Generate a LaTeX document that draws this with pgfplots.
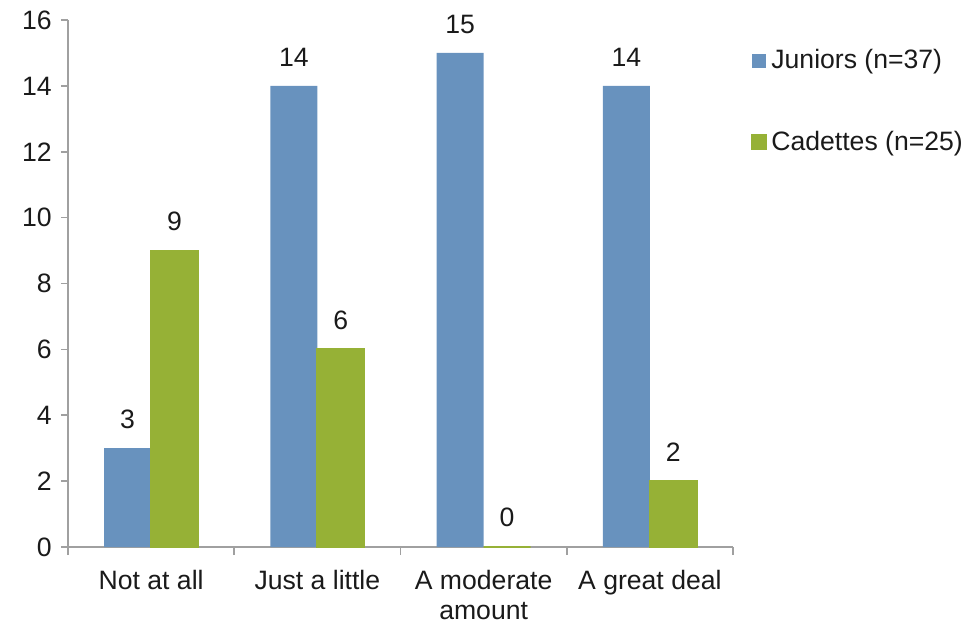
\documentclass[border=0pt]{standalone}
\usepackage{pgfplots}
\pgfplotsset{compat=1.18}
\usepackage{fontspec}
\setmainfont{Liberation Sans}
\definecolor{junblue}{RGB}{104,146,190}
\definecolor{cadgreen}{RGB}{150,177,54}
\definecolor{axgray}{RGB}{160,160,160}
\definecolor{txt}{RGB}{26,26,26}
\begin{document}
\begin{tikzpicture}
\fontsize{13.3}{15}\selectfont
\begin{axis}[
  name=ax,
  scale only axis,
  width=332.5pt, height=263.5pt,
  ybar=0pt, bar width=23.5pt,
  xmin=-0.5, xmax=3.5,
  ymin=0, ymax=16,
  ytick={0,2,...,16},
  xtick={0,1,2,3},
  xticklabels={Not at all, Just a little, {A moderate\\amount}, A great deal},
  minor xtick={-0.5,0.5,1.5,2.5,3.5},
  major x tick style={draw=none},
  minor tick length=4pt,
  major tick length=3.5pt,
  tick align=outside,
  tick style={axgray, line width=0.8pt},
  axis x line*=bottom, axis y line*=left,
  axis line style={axgray, line width=0.8pt, -},
  /pgf/number format/assume math mode=true,
  ticklabel style={font=\fontsize{13.3}{15}\selectfont, text=txt},
  xticklabel style={align=center, yshift=-3.5pt},
  nodes near coords,
  every node near coord/.append style={font=\fontsize{13.3}{15}\selectfont, text=txt, inner sep=0pt, yshift=9.5pt},
  legend style={at={(1.018,0.96)}, anchor=north west, draw=none, fill=none,
    font=\fontsize{13.3}{15}\selectfont, text=txt, row sep=25pt,
    /tikz/every even column/.append style={column sep=2pt}},
  legend cell align=left,
  legend image code/.code={\fill[#1] (0pt,-3.5pt) rectangle (7pt,3.5pt);},
]
\addplot[fill=junblue, draw=none] coordinates {(0,3) (1,14) (2,15) (3,14)};
\addplot[fill=cadgreen, draw=cadgreen, line width=1pt] coordinates {(0,9) (1,6) (2,0) (3,2)};
\legend{Juniors (n=37), Cadettes (n=25)}
\end{axis}
\pgfresetboundingbox
\path ([shift={(-34pt,-39pt)}]ax.south west) rectangle ([shift={(119pt,10pt)}]ax.north east);
\end{tikzpicture}
\end{document}
